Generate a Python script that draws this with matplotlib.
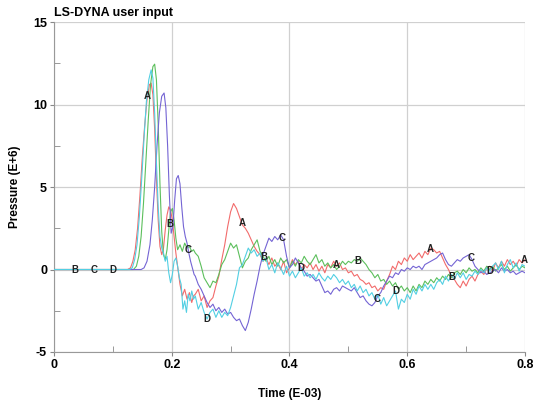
import numpy as np
import matplotlib
matplotlib.use("Agg")
import matplotlib.pyplot as plt
from matplotlib.ticker import MultipleLocator

plt.rcParams['font.family'] = ['Liberation Sans', 'DejaVu Sans']
plt.rcParams['font.weight'] = 'bold'
plt.rcParams['axes.unicode_minus'] = False

# shared sampling times for the noisy tail (E-03)
tail_t = np.round(np.arange(0.24, 0.8001, 0.005), 3)

# curve A (red)
a_head_t = [0, 0.125, 0.130, 0.134, 0.138, 0.142, 0.146, 0.150, 0.154, 0.158, 0.162, 0.165,
            0.168, 0.171, 0.174, 0.177, 0.180, 0.183, 0.186, 0.189, 0.192, 0.195, 0.198, 0.201,
            0.204, 0.207, 0.210, 0.214, 0.218, 0.222, 0.226, 0.230, 0.234, 0.237]
a_head_p = [0, 0, 0.1, 0.5, 1.2, 2.5, 4.5, 6.8, 8.7, 10.3, 11.2, 11.3,
            10.6, 8.5, 5.5, 3.0, 1.4, 0.9, 1.3, 2.4, 3.3, 3.8, 3.6, 3.0,
            2.0, 1.0, 0.2, -0.9, -1.6, -1.2, -1.8, -1.4, -2.0, -1.6]
a_tail_p = [-1.5, -1.2, -1.9, -1.6, -2.3, -1.9, -1.7, -1.0, -0.4, 0.6,
            1.5, 2.6, 3.5, 4.0, 3.7, 3.2, 2.7, 2.5, 2.2, 1.8,
            1.4, 1.1, 0.9, 0.5, 0.7, 0.3, 0.7, 0.2, 0.4, 0.0,
            0.5, -0.2, 0.1, 0.6, 0.3, 0.5, 0.0, 0.3, 0.1, 0.4,
            0.0, 0.3, -0.1, 0.2, -0.2, 0.3, 0.1, 0.5, 0.2, 0.4,
            0.0, 0.1, -0.2, -0.1, -0.4, -0.3, -0.6, -0.7, -0.9, -0.8,
            -1.1, -1.0, -1.3, -1.1, -1.2, -0.7, -0.3, 0.2, 0.0, 0.5,
            0.3, 0.7, 0.5, 0.9, 0.6, 0.8, 1.0, 0.7, 1.1, 0.9,
            1.3, 1.2, 1.0, 1.1, 0.7, 0.3, 0.0, -0.4, -0.6, -0.9,
            -1.1, -0.7, -1.0, -0.6, -0.4, -0.7, -0.3, -0.1, -0.3, 0.1,
            0.2, -0.1, 0.4, 0.1, 0.5, 0.2, 0.6, 0.3, 0.5, 0.2,
            0.6, 0.4, 0.6]

# curve B (green)
b_head_t = [0, 0.135, 0.140, 0.144, 0.148, 0.152, 0.156, 0.160, 0.164, 0.168, 0.171, 0.174,
            0.177, 0.180, 0.183, 0.186, 0.189, 0.192, 0.195, 0.198, 0.201, 0.204, 0.207, 0.210,
            0.214, 0.218, 0.222, 0.226, 0.230, 0.234, 0.237]
b_head_p = [0, 0, 0.2, 0.8, 2.0, 4.0, 6.5, 9.0, 11.2, 12.3, 12.45, 11.5,
            8.8, 5.2, 2.3, 0.9, 0.6, 1.2, 2.4, 3.5, 3.7, 3.0, 1.9, 1.2,
            1.5, 1.1, 1.6, 1.3, 1.4, 1.1, 1.2]
b_tail_p = [1.0, 0.8, 0.2, -0.5, -0.8, -1.1, -0.7, -0.8, -0.3, 0.3,
            0.6, 1.1, 1.6, 1.3, 1.5, 0.8, 0.1, 0.5, 0.7, 1.2,
            1.5, 1.8, 1.1, 0.8, 0.5, 0.8, 0.3, 0.6, 0.2, 0.7,
            0.4, 0.6, 0.1, 0.5, 0.2, 0.6, 0.4, 0.8, 0.5, 0.3,
            0.6, 0.9, 0.4, 0.6, 0.2, 0.4, 0.1, 0.3, 0.0, 0.2,
            0.5, 0.3, 0.5, 0.4, 0.6, 0.5, 0.7, 0.5, 0.3, 0.0,
            -0.2, -0.5, -0.3, -0.7, -0.6, -0.9, -0.7, -1.0, -0.8, -1.2,
            -1.0, -1.3, -1.1, -1.4, -1.0, -1.3, -0.9, -1.1, -0.7, -0.9,
            -0.6, -0.8, -0.5, -0.7, -0.4, -0.6, -0.3, -0.5, -0.2, -0.1,
            -0.3, 0.0, -0.2, 0.1, -0.1, 0.0, -0.2, 0.1, -0.1, 0.2,
            0.0, 0.2, -0.1, 0.1, 0.3, 0.0, 0.2, -0.1, 0.1, 0.3,
            0.0, 0.2, 0.1]

# curve C (purple)
c_head_t = [0, 0.148, 0.153, 0.158, 0.163, 0.167, 0.171, 0.175, 0.179, 0.183, 0.187, 0.190,
            0.193, 0.196, 0.199, 0.202, 0.205, 0.208, 0.211, 0.214, 0.217, 0.220, 0.223, 0.226,
            0.229, 0.232, 0.235, 0.238]
c_head_p = [0, 0, 0.1, 0.5, 1.5, 3.0, 5.0, 7.5, 9.5, 10.5, 10.7, 9.8,
            7.5, 4.5, 2.2, 2.6, 4.2, 5.5, 5.7, 5.2, 3.8, 2.6, 2.0, 1.6,
            1.0, 0.5, 0.1, -0.3]
c_tail_p = [-0.4, -0.9, -1.2, -1.6, -2.0, -2.3, -2.1, -2.5, -2.3, -2.6,
            -2.4, -2.7, -2.6, -2.9, -3.1, -3.0, -3.4, -3.7, -3.2, -2.4,
            -1.5, -0.7, 0.2, 0.9, 1.4, 1.9, 1.7, 2.0, 1.8, 2.1,
            1.8, 0.8, 0.1, 0.3, 0.7, 0.4, 0.1, -0.1, -0.4, -0.3,
            -0.5, -0.7, -0.6, -1.0, -1.4, -1.3, -1.5, -1.2, -1.1, -1.3,
            -1.0, -1.1, -1.2, -1.3, -1.1, -1.4, -1.7, -1.6, -1.9, -2.1,
            -2.2, -2.0, -1.6, -1.4, -1.0, -0.7, -0.4, -0.5, -0.2, -0.3,
            0.0, -0.1, 0.1, 0.0, 0.2, 0.1, 0.2, 0.0, 0.3, 0.4,
            0.5, 0.6, 0.7, 0.9, 1.0, 0.6, 0.3, 0.2, 0.4, 0.6,
            0.5, 0.7, 0.8, 0.9, 0.6, 0.2, 0.0, -0.2, -0.1, -0.3,
            -0.2, -0.1, 0.0, -0.2, 0.1, -0.1, 0.0, -0.2, -0.1, -0.3,
            -0.2, -0.1, -0.2]

# curve D (cyan)
d_head_t = [0, 0.128, 0.133, 0.137, 0.141, 0.145, 0.149, 0.153, 0.157, 0.161, 0.165, 0.168,
            0.171, 0.174, 0.177, 0.180, 0.183, 0.186, 0.189, 0.192, 0.195, 0.198, 0.201, 0.204,
            0.207, 0.210, 0.213, 0.216, 0.219, 0.222, 0.225, 0.228, 0.231, 0.234, 0.237]
d_head_p = [0, 0, 0.1, 0.6, 1.5, 3.2, 5.5, 8.0, 10.2, 11.5, 12.1, 11.6,
            9.5, 6.5, 3.8, 2.0, 1.3, 1.0, 0.5, 0.8, -0.2, -0.8, -0.3, 0.5,
            0.7, 0.2, -0.5, -0.9, -2.4, -1.9, -2.6, -1.5, -1.9, -1.3, -1.8]
d_tail_p = [-1.6, -2.4, -2.0, -2.6, -3.0, -2.6, -2.4, -2.9, -2.5, -2.9,
            -2.6, -2.8, -2.3, -1.6, -0.9, 0.1, 0.3, 0.8, 1.3, 1.0,
            1.2, 0.8, 1.0, 0.5, 0.7, 0.0, 0.3, -0.2, 0.4, 0.1,
            -0.3, 0.2, -0.4, -0.1, -0.5, -0.2, 0.1, -0.4, -0.2, -0.5,
            -0.3, -0.6, -0.2, -0.5, -0.7, -0.4, -0.6, -0.3, -0.5, -0.8,
            -0.6, -0.9, -0.7, -1.1, -0.9, -1.3, -1.0, -1.4, -1.2, -1.6,
            -1.4, -1.8, -1.5, -2.1, -1.7, -2.2, -1.9, -1.6, -1.3, -2.4,
            -1.8, -2.0, -1.5, -1.8, -1.2, -1.5, -1.0, -1.3, -0.9, -1.2,
            -0.9, -1.2, -0.8, -0.6, -0.9, -0.4, -0.7, -0.3, -0.6, -0.2,
            -0.5, -0.2, -0.6, -0.3, -0.4, -0.1, -0.3, 0.0, -0.2, 0.1,
            -0.1, 0.2, 0.4, 0.0, 0.5, -0.2, 0.3, 0.6, 0.1, 0.4,
            -0.1, 0.3, 0.2]

curve_names = ['A', 'B', 'C', 'D']
curve_colors = ['#f26b6b', '#5cbf5c', '#7464d4', '#52cfe3']
label_first = [0.159, 0.036, 0.068, 0.100]
label_step = 0.16

series = [
    (a_head_t, a_head_p, a_tail_p),
    (b_head_t, b_head_p, b_tail_p),
    (c_head_t, c_head_p, c_tail_p),
    (d_head_t, d_head_p, d_tail_p),
]

fig = plt.figure(figsize=(5.36, 4.01), dpi=100)
ax = fig.add_axes([0.1007, 0.1222, 0.8788, 0.8228])

for (ht, hp, tp), name, col, first in zip(series, curve_names, curve_colors, label_first):
    t = np.concatenate([ht, tail_t])
    p = np.concatenate([hp, tp])
    ax.plot(t, p, color=col, lw=0.8, zorder=3)
    for lt in np.arange(first, 0.8001, label_step):
        ax.text(lt, np.interp(lt, t, p), name, fontsize=7, fontweight='bold',
                ha='center', va='center', color='#222222', zorder=5)

ax.set_xlim(0, 0.8)
ax.set_ylim(-5, 15)
ax.xaxis.set_major_locator(MultipleLocator(0.2))
ax.xaxis.set_minor_locator(MultipleLocator(0.1))
ax.yaxis.set_major_locator(MultipleLocator(5))
ax.yaxis.set_minor_locator(MultipleLocator(2.5))
ax.xaxis.set_major_formatter(plt.FuncFormatter(lambda v, _: '0' if abs(v) < 1e-9 else f'{v:g}'))
ax.yaxis.set_major_formatter(plt.FuncFormatter(lambda v, _: f'{v:g}'))
ax.grid(True, which='major', color='#d0d0d0', lw=0.9, zorder=0)
ax.tick_params(which='major', direction='out', length=3, color='#888888',
               labelsize=9, pad=2)
ax.tick_params(which='minor', direction='in', length=4, color='#888888')
for s in ['top', 'right']:
    ax.spines[s].set_visible(False)
for s in ['left', 'bottom']:
    ax.spines[s].set_color('#999999')

ax.set_title('LS-DYNA user input', loc='left', fontsize=9, fontweight='bold', pad=4)
ax.set_xlabel('Time (E-03)', fontsize=8.5, fontweight='bold', labelpad=12)
ax.set_ylabel('Pressure (E+6)', fontsize=8.5, fontweight='bold', labelpad=9)

fig.savefig('out.png', dpi=100)
